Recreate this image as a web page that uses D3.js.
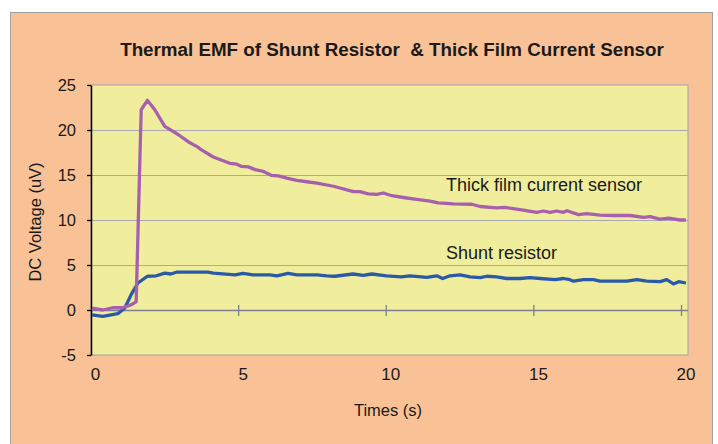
<!DOCTYPE html>
<html>
<head>
<meta charset="utf-8">
<script src="https://cdn.jsdelivr.net/npm/d3@7"></script>
<style>
  body { margin: 0; background: #fff; }
  text { font-family: "Liberation Sans", Arial, sans-serif; fill: #1a1a1a; }
</style>
</head>
<body>
<svg id="chart" width="718" height="444"></svg>
<script>
// data (time in s, voltage in uV)
const titleText = 'Thermal EMF of Shunt Resistor\u00a0 & Thick Film Current Sensor'
const yTicks = [-5, 0, 5, 10, 15, 20, 25]
const xTicks = [0, 5, 10, 15, 20]

const thickTime = [0.03, 0.4, 0.74, 1.07, 1.31, 1.53, 1.70, 1.91, 2.16, 2.5, 2.95, 3.29, 3.62, 3.69,
  4.14, 4.7, 4.94, 5.1, 5.33, 5.56, 5.84, 6.12, 6.35, 6.63, 6.97, 7.31, 7.65, 8.21, 8.89, 9.11,
  9.39, 9.68, 9.9, 10.19, 10.58, 11.03, 11.48, 11.76, 12.27, 12.9, 13.18, 13.74, 14.02, 14.53,
  15.1, 15.32, 15.55, 15.77, 16.0, 16.12, 16.51, 16.79, 17.24, 17.69, 18.26, 18.71, 18.94, 19.27,
  19.56, 19.95, 20.15]
const thickValues = [0.2, 0.0, 0.25, 0.25, 0.5, 0.9, 22.25, 23.3, 22.25, 20.4, 19.5, 18.7, 18.1, 17.9,
  17.0, 16.3, 16.2, 15.95, 15.9, 15.6, 15.4, 14.95, 14.9, 14.65, 14.4, 14.25, 14.1, 13.75, 13.15, 13.15,
  12.9, 12.85, 13.0, 12.7, 12.5, 12.3, 12.1, 11.9, 11.8, 11.75, 11.5, 11.35, 11.4, 11.15,
  10.85, 11.0, 10.85, 11.0, 10.85, 11.03, 10.6, 10.7, 10.55, 10.5, 10.5, 10.3, 10.37, 10.1,
  10.2, 10.0, 10.0]

const shuntTime = [0.03, 0.4, 0.91, 1.14, 1.36, 1.59, 1.91, 2.21, 2.5, 2.7, 2.89, 3.96, 4.14, 4.88,
  5.15, 5.49, 6.06, 6.3, 6.67, 6.98, 7.65, 7.99, 8.26, 8.88, 9.22, 9.51, 10.01, 10.52, 10.8,
  11.37, 11.71, 11.91, 12.16, 12.5, 12.84, 13.18, 13.41, 13.74, 14.08, 14.53, 14.87, 15.21,
  15.72, 16.0, 16.22, 16.34, 16.68, 17.02, 17.24, 18.15, 18.49, 18.83, 19.28, 19.5, 19.73,
  19.9, 20.15]
const shuntValues = [-0.55, -0.7, -0.4, 0.2, 1.7, 3.0, 3.75, 3.8, 4.1, 4.0, 4.2, 4.2, 4.1, 3.9,
  4.07, 3.9, 3.9, 3.8, 4.07, 3.9, 3.9, 3.8, 3.75, 4.0, 3.85, 4.0, 3.8, 3.67, 3.8,
  3.63, 3.8, 3.5, 3.8, 3.9, 3.67, 3.6, 3.75, 3.67, 3.5, 3.5, 3.6, 3.5,
  3.37, 3.5, 3.37, 3.2, 3.37, 3.37, 3.2, 3.2, 3.37, 3.2, 3.15, 3.37, 2.9,
  3.15, 3.0]

const seriesNames = ['Thick film current sensor', 'Shunt resistor']

let svg = d3.select('#chart')

// outer panel
svg.append('rect')
    .attr('x', 10.5).attr('y', 12.5)
    .attr('width', 702).attr('height', 440)
    .attr('fill', '#f9c196')
    .attr('stroke', '#a0a0a0')

let x = d3.scaleLinear().domain([0, 20]).range([91, 681.5])
let y = d3.scaleLinear().domain([-5, 25]).range([355, 85])
let plotRight = 688

// plot area
svg.append('rect')
    .attr('x', x(0)).attr('y', y(25))
    .attr('width', plotRight - x(0)).attr('height', y(-5) - y(25))
    .attr('fill', '#f0ee9c')
    .attr('stroke', '#a3a3a8')

// horizontal gridlines
svg.append('g')
    .selectAll('line')
    .data([5, 10, 15, 20])
  .enter().append('line')
    .attr('x1', x(0)).attr('x2', plotRight)
    .attr('y1', d => y(d) + 0.5).attr('y2', d => y(d) + 0.5)
    .attr('stroke', '#a8a8b4')
    .attr('stroke-width', 1.2)

// zero line with crossing ticks
let zero = svg.append('g')
zero.append('line')
    .attr('x1', x(0)).attr('x2', plotRight)
    .attr('y1', y(0) + 0.5).attr('y2', y(0) + 0.5)
    .attr('stroke', '#7e7f92')
    .attr('stroke-width', 1.3)
zero.selectAll('.xt')
    .data(xTicks.slice(1))
  .enter().append('line')
    .attr('class', 'xt')
    .attr('x1', d => x(d)).attr('x2', d => x(d))
    .attr('y1', y(0) - 5).attr('y2', y(0) + 6)
    .attr('stroke', '#7e7f92')
    .attr('stroke-width', 1.3)

// y axis
let yAxis = d3.axisLeft(y)
    .tickValues(yTicks)
    .tickSizeInner(4)
    .tickSizeOuter(0)
    .tickPadding(11)
    .tickFormat(d => String(d))

let gy = svg.append('g')
    .attr('transform', 'translate(' + x(0) + ',0)')
    .call(yAxis)
gy.select('.domain').attr('stroke', '#000').attr('stroke-width', 1.5)
gy.selectAll('.tick line').attr('stroke', '#000').attr('stroke-width', 1.3)
gy.selectAll('.tick text')
    .attr('font-size', 16.5)
    .attr('font-family', '"Liberation Sans", Arial, sans-serif')
    .attr('fill', '#1a1a1a')

// x axis labels along the bottom
let xAxis = d3.axisBottom(x)
    .tickValues(xTicks)
    .tickSize(0)
    .tickPadding(13)

let gx = svg.append('g')
    .attr('transform', 'translate(4,' + y(-5) + ')')
    .call(xAxis)
gx.select('.domain').remove()
gx.selectAll('.tick text')
    .attr('font-size', 17)
    .attr('font-family', '"Liberation Sans", Arial, sans-serif')
    .attr('fill', '#1a1a1a')

// series lines
let line = d3.line()
    .x(d => x(d[0]))
    .y(d => y(d[1]))

let thickData = thickTime.map((t, i) => [t, thickValues[i]])
let shuntData = shuntTime.map((t, i) => [t, shuntValues[i]])

svg.append('path')
    .datum(shuntData)
    .attr('d', line)
    .attr('fill', 'none')
    .attr('stroke', '#2b59a9')
    .attr('stroke-width', 3.3)
    .attr('stroke-linejoin', 'round')

svg.append('path')
    .datum(thickData)
    .attr('d', line)
    .attr('fill', 'none')
    .attr('stroke', '#a660ae')
    .attr('stroke-width', 3.3)
    .attr('stroke-linejoin', 'round')

// series labels
svg.append('text')
    .attr('x', 446).attr('y', 191)
    .attr('font-size', 18)
    .text(seriesNames[0])
svg.append('text')
    .attr('x', 446).attr('y', 259)
    .attr('font-size', 18)
    .text(seriesNames[1])

// title
svg.append('text')
    .attr('x', 392).attr('y', 56)
    .attr('text-anchor', 'middle')
    .attr('font-size', 18.8)
    .attr('font-weight', 'bold')
    .attr('fill', '#222')
    .text(titleText)

// axis titles
svg.append('text')
    .attr('x', 388).attr('y', 416)
    .attr('text-anchor', 'middle')
    .attr('font-size', 16.5)
    .text('Times (s)')

svg.append('text')
    .attr('transform', 'translate(41,222) rotate(-90)')
    .attr('text-anchor', 'middle')
    .attr('font-size', 16.5)
    .text('DC Voltage (uV)')
</script>
</body>
</html>
